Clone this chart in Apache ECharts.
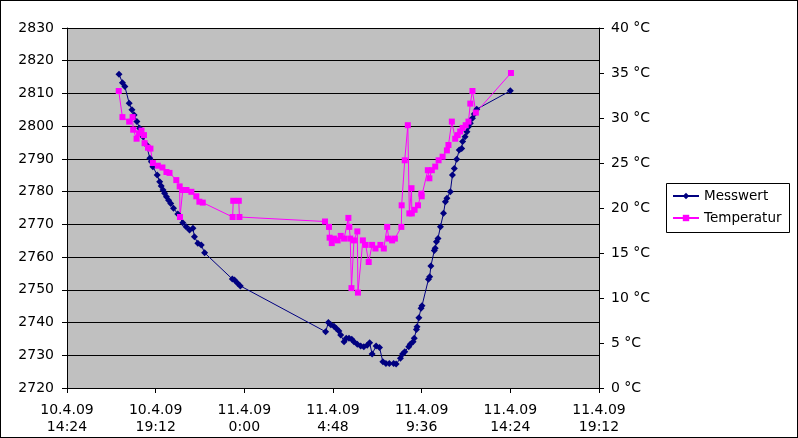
<!DOCTYPE html>
<html>
<head>
<meta charset="utf-8">
<script src="https://cdn.jsdelivr.net/npm/echarts@6/dist/echarts.min.js"></script>
<style>
html,body{margin:0;padding:0;background:#fff;}
#wrap{width:798px;height:438px;box-sizing:border-box;border:1px solid #000;background:#fff;}
#chart{width:796px;height:436px;}
</style>
</head>
<body>
<div id="wrap"><div id="chart"></div></div>
<script>
const xTickLabels = ["10.4.09\n14:24","10.4.09\n19:12","11.4.09\n0:00","11.4.09\n4:48","11.4.09\n9:36","11.4.09\n14:24","11.4.09\n19:12"];

const msTimes = ["10.4 17:13","10.4 17:24","10.4 17:32","10.4 17:46","10.4 17:55","10.4 18:02","10.4 18:11","10.4 18:20","10.4 18:31","10.4 18:42",
"10.4 18:53","10.4 18:58","10.4 19:03","10.4 19:17","10.4 19:25","10.4 19:30","10.4 19:36","10.4 19:41","10.4 19:47","10.4 19:54",
"10.4 20:01","10.4 20:10","10.4 20:24","10.4 20:40","10.4 20:51","10.4 21:02","10.4 21:13","10.4 21:18","10.4 21:29","10.4 21:40",
"10.4 21:51","10.4 23:21","10.4 23:28","10.4 23:38","10.4 23:47","11.4 04:24","11.4 04:33","11.4 04:41","11.4 04:51","11.4 04:59",
"11.4 05:07","11.4 05:13","11.4 05:24","11.4 05:31","11.4 05:40","11.4 05:49","11.4 05:56","11.4 06:07","11.4 06:18","11.4 06:28",
"11.4 06:39","11.4 06:47","11.4 06:55","11.4 07:08","11.4 07:19","11.4 07:30","11.4 07:40","11.4 07:51","11.4 08:05","11.4 08:13",
"11.4 08:27","11.4 08:34","11.4 08:41","11.4 08:54","11.4 08:59","11.4 09:08","11.4 09:12","11.4 09:19","11.4 09:21","11.4 09:27",
"11.4 09:34","11.4 09:37","11.4 09:58","11.4 10:02","11.4 10:06","11.4 10:17","11.4 10:20","11.4 10:24","11.4 10:29","11.4 10:37",
"11.4 10:47","11.4 10:53","11.4 10:58","11.4 11:09","11.4 11:16","11.4 11:22","11.4 11:30","11.4 11:38","11.4 11:46","11.4 11:49",
"11.4 11:57","11.4 12:03","11.4 12:08","11.4 12:14","11.4 12:21","11.4 12:27","11.4 12:35","11.4 14:24"];
const msValues = [2815.9,2813.3,2812.1,2807.0,2805.0,2803.4,2801.4,2799.4,2796.8,2794.3,
2790.2,2789.1,2787.6,2785.1,2783.0,2781.7,2780.5,2779.5,2778.4,2777.4,
2776.4,2774.9,2773.2,2770.5,2769.3,2768.3,2768.8,2766.2,2764.2,2763.7,
2761.3,2753.3,2753.0,2752.0,2751.2,2737.2,2740.0,2739.3,2738.9,2738.2,
2737.4,2736.2,2734.1,2735.2,2735.2,2734.9,2734.1,2733.4,2732.8,2732.6,
2733.1,2733.8,2730.4,2732.8,2732.4,2728.0,2727.5,2727.5,2727.5,2727.3,
2729.1,2730.4,2731.1,2732.6,2733.4,2734.1,2735.2,2737.9,2738.7,2741.5,
2744.4,2745.1,2753.2,2754.0,2757.3,2762.0,2762.7,2764.7,2765.7,2769.3,
2773.4,2776.9,2778.0,2780.0,2785.1,2787.1,2789.9,2792.7,2793.2,2795.3,
2796.8,2798.3,2799.8,2800.9,2802.4,2803.7,2805.2,2810.8];

const tpTimes = ["10.4 17:12","10.4 17:24","10.4 17:46","10.4 17:57","10.4 17:59","10.4 18:10","10.4 18:18","10.4 18:26","10.4 18:34","10.4 18:36",
"10.4 18:47","10.4 18:55","10.4 19:03","10.4 19:19","10.4 19:34","10.4 19:47","10.4 19:57","10.4 20:19","10.4 20:30","10.4 20:31",
"10.4 20:40","10.4 20:52","10.4 21:08","10.4 21:24","10.4 21:34","10.4 21:45","10.4 23:22","10.4 23:24","10.4 23:42","10.4 23:44",
"11.4 04:22","11.4 04:35","11.4 04:37","11.4 04:44","11.4 04:51","11.4 05:03","11.4 05:13","11.4 05:24","11.4 05:38","11.4 05:41",
"11.4 05:44","11.4 05:48","11.4 05:56","11.4 06:07","11.4 06:09","11.4 06:25","11.4 06:34","11.4 06:44","11.4 06:55","11.4 07:06",
"11.4 07:22","11.4 07:33","11.4 07:44","11.4 07:49","11.4 08:00","11.4 08:09","11.4 08:30","11.4 08:31","11.4 08:41","11.4 08:51",
"11.4 08:56","11.4 09:03","11.4 09:04","11.4 09:13","11.4 09:24","11.4 09:35","11.4 09:36","11.4 09:56","11.4 10:01","11.4 10:09",
"11.4 10:20","11.4 10:31","11.4 10:44","11.4 10:58","11.4 11:03","11.4 11:14","11.4 11:25","11.4 11:33","11.4 11:41","11.4 11:49",
"11.4 11:59","11.4 12:08","11.4 12:14","11.4 12:21","11.4 12:32","11.4 14:26"];
const tpValues = [33.0,30.1,29.6,30.1,28.7,27.7,28.3,28.6,28.1,27.2,
26.7,26.6,25.0,24.7,24.5,24.0,23.9,23.1,22.4,19.0,
22.0,22.0,21.8,21.3,20.7,20.6,19.0,20.8,20.8,19.0,
18.5,17.9,16.7,16.1,16.6,16.4,16.9,16.6,18.9,17.9,
16.6,11.1,16.4,17.4,10.6,16.4,15.9,14.0,15.9,15.5,
15.9,15.5,17.9,16.6,16.4,16.6,17.9,20.3,25.3,29.2,
19.4,22.2,19.4,19.8,20.3,21.6,21.3,24.2,23.3,24.2,
24.6,25.3,25.7,26.4,27.0,29.6,27.7,28.1,28.5,28.9,
29.2,29.6,31.6,33.0,30.6,35.0];

function toHours(s){
  const parts = s.split(' ');
  const day = parseInt(parts[0].split('.')[0], 10);
  const hm = parts[1].split(':').map(Number);
  return (day - 10) * 24 + hm[0] + hm[1] / 60;
}
const msData = msTimes.map((t, i) => [toHours(t), msValues[i]]);
const tpData = tpTimes.map((t, i) => [toHours(t), tpValues[i]]);

const FONT = '"DejaVu Sans", sans-serif';
const FS = 14;
const chart = echarts.init(document.getElementById('chart'), null, {renderer: 'canvas'});
chart.setOption({
  animation: false,
  backgroundColor: '#ffffff',
  textStyle: {fontFamily: FONT},
  grid: {left: 66, top: 27, right: 198, bottom: 49, show: true, backgroundColor: '#c0c0c0', borderWidth: 0},
  graphic: [{
    type: 'rect', z: 0, silent: true,
    shape: {x: 665.5, y: 182.5, width: 123, height: 49},
    style: {fill: '#ffffff', stroke: '#000000', lineWidth: 1}
  }],
  legend: {
    orient: 'vertical', left: 671, top: 188, z: 10,
    padding: 0, itemGap: 8, itemWidth: 26, itemHeight: 8,
    textStyle: {fontFamily: FONT, fontSize: 13.5, color: '#000'},
    data: ['Messwert', 'Temperatur']
  },
  xAxis: {
    type: 'value', min: 14.4, max: 43.2, interval: 4.8,
    axisLine: {show: true, onZero: false, lineStyle: {color: '#000', width: 1}},
    axisTick: {show: true, length: 5, lineStyle: {color: '#000'}},
    splitLine: {show: false},
    axisLabel: {
      color: '#000', fontFamily: FONT, fontSize: FS, lineHeight: 17, margin: 14,
      formatter: function (v) {
        const idx = Math.round((v - 14.4) / 4.8);
        return xTickLabels[idx] !== undefined ? xTickLabels[idx] : '';
      }
    }
  },
  yAxis: [
    {
      type: 'value', min: 2720, max: 2830, interval: 10, position: 'left',
      axisLine: {show: true, lineStyle: {color: '#000', width: 1}},
      axisTick: {show: true, length: 5, lineStyle: {color: '#000'}},
      splitLine: {show: true, lineStyle: {color: '#000', width: 1}},
      axisLabel: {color: '#000', fontFamily: FONT, fontSize: FS, margin: 13,
        formatter: function (v) { return String(Math.round(v)); }}
    },
    {
      type: 'value', min: 0, max: 40, interval: 5, position: 'right',
      axisLine: {show: true, lineStyle: {color: '#000', width: 1}},
      axisTick: {show: true, length: 5, lineStyle: {color: '#000'}},
      splitLine: {show: false},
      axisLabel: {color: '#000', fontFamily: FONT, fontSize: FS, margin: 12,
        formatter: function (v) { return Math.round(v) + ' °C'; }}
    }
  ],
  series: [
    {
      name: 'Messwert', type: 'line', yAxisIndex: 0, data: msData,
      symbol: 'diamond', symbolSize: 7, showAllSymbol: true,
      lineStyle: {color: '#000080', width: 1},
      itemStyle: {color: '#000080', borderWidth: 0}
    },
    {
      name: 'Temperatur', type: 'line', yAxisIndex: 1, data: tpData,
      symbol: 'rect', symbolSize: 6, showAllSymbol: true,
      lineStyle: {color: '#ff00ff', width: 1},
      itemStyle: {color: '#ff00ff', borderWidth: 0}
    }
  ]
});
</script>
</body>
</html>
